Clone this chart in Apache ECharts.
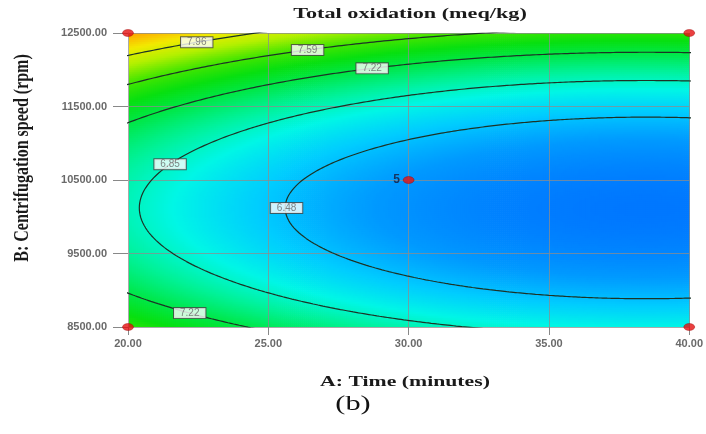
<!DOCTYPE html>
<html>
<head>
<meta charset="utf-8">
<script src="https://cdn.jsdelivr.net/npm/echarts@6/dist/echarts.min.js"></script>
<style>
  html, body { margin: 0; padding: 0; background: #fff; }
  #chart { width: 706px; height: 434px; }
</style>
</head>
<body>
<div id="chart"></div>
<script>
// Factor ranges (actual units)
const timeRange = [20, 40];          // A: minutes
const speedRange = [8500, 12500];    // B: rpm
const timeTicks = [20, 25, 30, 35, 40];
const speedTicks = [8500, 9500, 10500, 11500, 12500];

// Quadratic response model for total oxidation in coded factors
// terms: Intercept, A, B, AB, A^2, B^2
const modelTerms = ['Intercept', 'A', 'B', 'AB', 'A^2', 'B^2'];
const modelCoefs = [6.30, -0.39, 0.38, 0.0, 0.23, 1.00];

// Contour levels and where each label sits (level, time, branch: +1 upper, -1 lower, 0 nose)
const contourLevels = [6.48, 6.85, 7.22, 7.59, 7.96];
const labelLevels = [7.96, 7.59, 7.22, 6.85, 6.48, 7.22];
const labelTimes  = [22.45, 26.4, 28.7, 21.5, 25.65, 22.2];
const labelSides  = [1, 1, 1, 1, 0, -1];

// Design points and replicate counts
const designTime  = [20, 40, 20, 40, 30];
const designSpeed = [12500, 12500, 8500, 8500, 10500];
const designReps  = [1, 1, 1, 1, 5];

const midA = (timeRange[0] + timeRange[1]) / 2, halfA = (timeRange[1] - timeRange[0]) / 2;
const midB = (speedRange[0] + speedRange[1]) / 2, halfB = (speedRange[1] - speedRange[0]) / 2;
const codeA = A => (A - midA) / halfA;
const uncodeA = a => midA + a * halfA;
const uncodeB = b => midB + b * halfB;

const [c0, c1, c2, c12, c11, c22] = modelCoefs;
function predict(a, b) {
  return c0 + c1 * a + c2 * b + c12 * a * b + c11 * a * a + c22 * b * b;
}
// For a given coded a, solve model(a, b) = L for b
function solveB(a, L, side) {
  const qa = c22, qb = c2 + c12 * a, qc = c0 + c1 * a + c11 * a * a - L;
  const D = qb * qb - 4 * qa * qc;
  return (-qb + side * Math.sqrt(Math.max(D, 0))) / (2 * qa);
}

// Response grid for the colour field (cell centres in actual units)
const nx = 282, ny = 147;
const cellW = (timeRange[1] - timeRange[0]) / nx;
const cellH = (speedRange[1] - speedRange[0]) / ny;
const cellData = [];
let zMin = Infinity, zMax = -Infinity;
for (let j = 0; j < ny; j++) {
  const B = speedRange[0] + (j + 0.5) * cellH;
  for (let i = 0; i < nx; i++) {
    const A = timeRange[0] + (i + 0.5) * cellW;
    const z = predict((A - midA) / halfA, (B - midB) / halfB);
    zMin = Math.min(zMin, z); zMax = Math.max(zMax, z);
    cellData.push([A, B, z]);
  }
}

// Contour polylines traced along the model's b-branches
function contourPath(L) {
  const alpha = c12 * c12 - 4 * c22 * c11;
  const beta = 2 * c2 * c12 - 4 * c22 * c1;
  const gamma = c2 * c2 - 4 * c22 * (c0 - L);
  const disc = beta * beta - 4 * alpha * gamma;
  if (disc < 0) return [];
  let r1 = (-beta - Math.sqrt(disc)) / (2 * alpha);
  let r2 = (-beta + Math.sqrt(disc)) / (2 * alpha);
  if (r1 > r2) [r1, r2] = [r2, r1];
  const lo = Math.max(r1, -1.6), hi = Math.min(r2, 1.6);
  const n = 400, up = [], down = [];
  for (let k = 0; k <= n; k++) {
    const t = k / n;
    const a = lo + (hi - lo) * (1 - Math.cos(Math.PI * t)) / 2;
    up.push([uncodeA(a), uncodeB(solveB(a, L, 1))]);
    down.push([uncodeA(a), uncodeB(solveB(a, L, -1))]);
  }
  if (lo > r1 || hi < r2) return up.concat([null], down);
  return up.concat(down.reverse());
}

const contourSeries = contourLevels.map(L => ({
  type: 'line',
  data: contourPath(L),
  showSymbol: false, symbol: 'none',
  connectNulls: false,
  clip: true,
  silent: true,
  z: 5,
  lineStyle: { color: '#1c3326', width: 1.2 }
}));

const labelData = labelLevels.map((L, k) => {
  const a = codeA(labelTimes[k]);
  return [labelTimes[k], uncodeB(solveB(a, L, labelSides[k])), L];
});

const designData = designTime.map((t, k) => [t, designSpeed[k], designReps[k]]);

const colorStops = ['#0078ff', '#009aff', '#00ccff', '#00f6e6', '#00f29a', '#00e84e',
                    '#08e010', '#48e600', '#b4f000', '#f2ea00', '#ffa800'];

const serifBold = 'bold 15px "Liberation Serif"';

const chart = echarts.init(document.getElementById('chart'), null, { renderer: 'canvas' });
const tickLabelStyle = {
  color: '#6a6a6a', fontSize: 11, fontWeight: 'bold', fontFamily: 'Liberation Sans'
};
chart.setOption({
  animation: false,
  backgroundColor: '#ffffff',
  grid: { left: 128, top: 33, width: 564, height: 294, containLabel: false },
  xAxis: {
    type: 'value', min: timeRange[0], max: timeRange[1], interval: timeTicks[1] - timeTicks[0],
    z: 4,
    axisLine: { show: true, lineStyle: { color: '#aaaaaa' } },
    axisTick: { show: true, length: 8, lineStyle: { color: '#888' } },
    axisLabel: Object.assign({ margin: 11, formatter: v => v.toFixed(2) }, tickLabelStyle),
    splitLine: { show: true, lineStyle: { color: 'rgba(140,140,140,0.75)', width: 1 } }
  },
  yAxis: {
    type: 'value', min: speedRange[0], max: speedRange[1], interval: speedTicks[1] - speedTicks[0],
    z: 4,
    axisLine: { show: true, lineStyle: { color: '#aaaaaa' } },
    axisTick: { show: true, length: 15, lineStyle: { color: '#888' } },
    axisLabel: Object.assign({ margin: 21, formatter: v => v.toFixed(2) }, tickLabelStyle),
    splitLine: { show: true, lineStyle: { color: 'rgba(140,140,140,0.75)', width: 1 } }
  },
  visualMap: {
    show: false, type: 'continuous', seriesIndex: 0, dimension: 2,
    min: zMin, max: zMax,
    inRange: { color: colorStops }
  },
  graphic: [{
    type: 'text', x: 410, y: 14, scaleX: 1.48,
    style: { text: 'Total oxidation (meq/kg)', fill: '#1a1a1a', font: serifBold,
      align: 'center', verticalAlign: 'middle' }
  }, {
    type: 'text', x: 405, y: 382, scaleX: 1.45,
    style: { text: 'A: Time (minutes)', fill: '#1a1a1a', font: serifBold,
      align: 'center', verticalAlign: 'middle' }
  }, {
    type: 'text', x: 23, y: 158, rotation: Math.PI / 2, scaleY: 1.3,
    style: { text: 'B: Centrifugation speed (rpm)', fill: '#1a1a1a',
      font: 'bold 16px "Liberation Serif"', align: 'center', verticalAlign: 'middle' }
  }, {
    type: 'text', x: 353, y: 404, scaleX: 1.38,
    style: { text: '(b)', fill: '#111', font: '22px "Liberation Serif"',
      align: 'center', verticalAlign: 'middle' }
  }],
  series: [{
    type: 'custom',
    data: cellData,
    clip: true,
    silent: true,
    progressive: 0,
    z: 1,
    renderItem: (params, api) => {
      const A = api.value(0), B = api.value(1);
      const p0 = api.coord([A - cellW / 2, B + cellH / 2]);
      const p1 = api.coord([A + cellW / 2, B - cellH / 2]);
      return {
        type: 'rect',
        shape: { x: p0[0], y: p0[1], width: p1[0] - p0[0] + 0.7, height: p1[1] - p0[1] + 0.7 },
        style: { fill: api.visual('color') }
      };
    }
  }].concat(contourSeries, [{
    type: 'scatter',
    data: labelData,
    symbolSize: 0,
    silent: true,
    z: 7,
    label: {
      show: true, position: 'inside',
      formatter: p => p.value[2].toFixed(2),
      backgroundColor: '#ffffff', borderColor: '#444', borderWidth: 1,
      padding: [0, 6, 0, 6], fontSize: 10, lineHeight: 10,
      color: '#666', fontFamily: 'Liberation Sans'
    }
  }, {
    type: 'scatter',
    data: designData,
    symbol: 'circle', symbolSize: [11, 7],
    clip: false,
    silent: true,
    z: 8,
    itemStyle: { color: '#e51010', borderColor: '#9a0000', borderWidth: 0.5 },
    label: {
      show: true, position: 'left', distance: 3,
      formatter: p => (p.value[2] > 1 ? String(p.value[2]) : ''),
      fontSize: 12, fontWeight: 'bold', color: '#1a1a3a', fontFamily: 'Liberation Sans'
    }
  }])
});
</script>
</body>
</html>
